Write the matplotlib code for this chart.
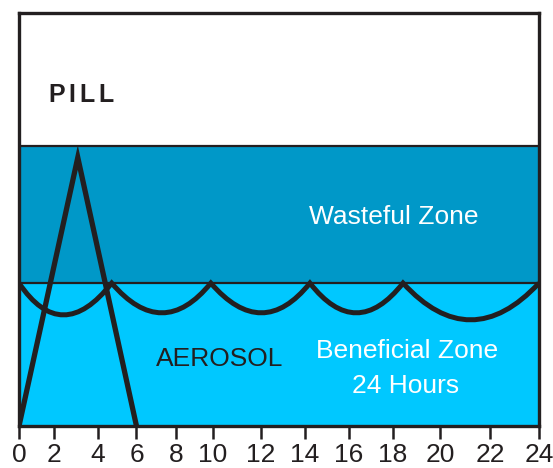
import numpy as np
import matplotlib
matplotlib.use("Agg")
import matplotlib.pyplot as plt
from matplotlib.path import Path
from matplotlib.patches import PathPatch

plt.rcParams['font.family'] = ['Liberation Sans', 'DejaVu Sans']

# x axis: hour labels and where the (hand drawn) ticks sit along the axis
hours = [0, 2, 4, 6, 8, 10, 12, 14, 16, 18, 20, 22, 24]
hour_spacing = [19.3, 54.3, 98.3, 136.7, 176.7, 213, 261, 305, 349, 393, 440, 490, 539]

# zone levels (0 = bottom, 100 = top of box)
beneficial_top = 34.6
wasteful_top = 67.8

# pill: rises from 0 to peak, then back to 0
pill_hours = [0, 3.08, 6]
pill_level = [0, 65.0, 0]

# aerosol: scallops between doses, cusps at the beneficial top
aerosol_cusps = [0, 4.71, 9.89, 14.23, 18.43, 24]
aerosol_troughs = [26.9, 27.4, 27.4, 27.4, 25.7]

line_col = '#231f20'
wasteful_col = '#0098c8'
beneficial_col = '#00c8ff'


def fwd(x):
    return np.interp(x, hours, hour_spacing)


def inv(x):
    return np.interp(x, hour_spacing, hours)


fig = plt.figure(figsize=(5.53, 4.68), dpi=100)
W, H = 553, 468
ax = fig.add_axes([19 / W, (H - 426) / H, 520 / W, 413 / H])
ax.set_xscale('function', functions=(fwd, inv))
ax.set_xlim(0, 24)
ax.set_ylim(0, 100)

ax.axhspan(0, beneficial_top, color=beneficial_col, lw=0)
ax.axhspan(beneficial_top, wasteful_top, color=wasteful_col, lw=0)
ax.axhline(beneficial_top, color=line_col, lw=1.6)
ax.axhline(wasteful_top, color=line_col, lw=1.6)

# aerosol scallops as quadratic curves
verts = [(aerosol_cusps[0], beneficial_top)]
codes = [Path.MOVETO]
for i, tr in enumerate(aerosol_troughs):
    a, b = aerosol_cusps[i], aerosol_cusps[i + 1]
    verts.append(((a + b) / 2, 2 * tr - beneficial_top))
    verts.append((b, beneficial_top))
    codes += [Path.CURVE3, Path.CURVE3]
ax.add_patch(PathPatch(Path(verts, codes), fill=False, ec=line_col, lw=3.6,
                       joinstyle='miter', zorder=3))

ax.plot(pill_hours, pill_level, color=line_col, lw=3.8,
        solid_joinstyle='miter', zorder=4)

for s in ax.spines.values():
    s.set_color(line_col)
    s.set_linewidth(2.4)
    s.set_zorder(5)

ax.set_xticks(hours)
ax.set_xticklabels([str(h) for h in hours])
ax.tick_params(axis='x', length=9, width=1.8, color=line_col, pad=3,
               labelsize=19, labelcolor=line_col)
ax.set_yticks([])

# labels
for ch, fx in zip('PILL', [0.0558, 0.0942, 0.117, 0.152]):
    ax.text(fx, 0.784, ch, transform=ax.transAxes, ha='left', va='baseline',
            fontsize=18, fontweight='bold', color=line_col)
ax.text(0.721, 0.489, 'Wasteful Zone', transform=ax.transAxes, ha='center',
        va='baseline', fontsize=19, color='white')
ax.text(0.385, 0.145, 'AEROSOL', transform=ax.transAxes, ha='center',
        va='baseline', fontsize=19, color=line_col)
ax.text(0.746, 0.165, 'Beneficial Zone', transform=ax.transAxes, ha='center',
        va='baseline', fontsize=19, color='white')
ax.text(0.744, 0.080, '24 Hours', transform=ax.transAxes, ha='center',
        va='baseline', fontsize=19, color='white')

fig.savefig('out.png', dpi=100)
